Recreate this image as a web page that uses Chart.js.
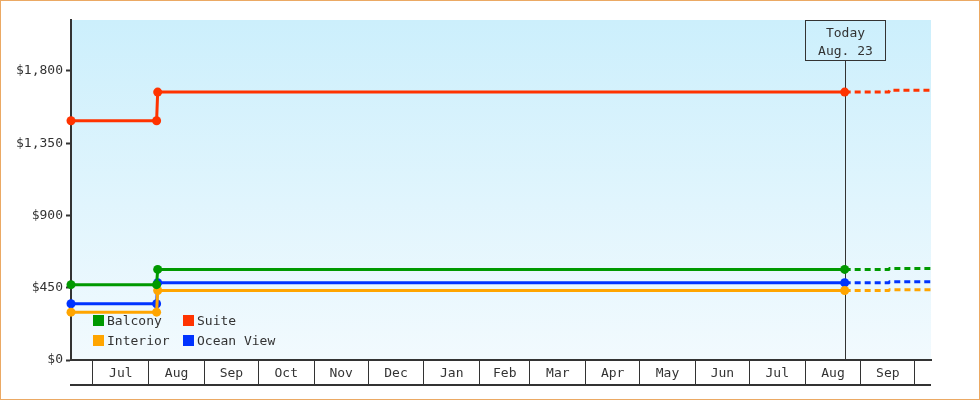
<!DOCTYPE html>
<html>
<head>
<meta charset="utf-8">
<script src="https://cdn.jsdelivr.net/npm/chart.js@4.4.1/dist/chart.umd.min.js"></script>
<style>
  html, body { margin: 0; padding: 0; background: #fff; }
  #wrap { position: relative; width: 980px; height: 400px; }
  #legend {
    position: absolute; left: 93px; top: 310px;
    display: grid; grid-template-columns: 90px auto;
    font: 13px "DejaVu Sans Mono", monospace; color: #333;
  }
  #legend .item { display: flex; align-items: center; height: 20px; }
  #legend .box { width: 11px; height: 11px; margin-right: 3px; }
</style>
</head>
<body>
<div id="wrap">
  <canvas id="chart" width="980" height="400"></canvas>
  <div id="legend"></div>
</div>
<script>
// days counted from Jul 1 of the first year
const pastDays = [-12.2, 35.4, 36.0, 418];
const futureDays = [418, 442.5, 443, 466];
const todayDay = 418;
const todayLabel = ['Today', 'Aug. 23'];

const balcony = [469, 469, 564, 564];
const interior = [298, 298, 433, 433];
const suite = [1490, 1490, 1668, 1668];
const oceanView = [350, 350, 481, 481];

const balconyFuture = [564, 564, 569, 569];
const interiorFuture = [433, 433, 437, 437];
const suiteFuture = [1668, 1668, 1680, 1680];
const oceanViewFuture = [481, 481, 487, 487];

const monthStarts = [0, 31, 62, 92, 123, 153, 184, 215, 243, 274, 304, 335, 365, 396, 427, 457];
const monthLabels = ['Jul', 'Aug', 'Sep', 'Oct', 'Nov', 'Dec', 'Jan', 'Feb', 'Mar', 'Apr', 'May', 'Jun', 'Jul', 'Aug', 'Sep'];
const yTicks = [0, 450, 900, 1350, 1800];

const FONT = '"DejaVu Sans Mono", monospace';
const INK = '#333';

const series = [
  { label: 'Balcony', color: '#009900', past: balcony, future: balconyFuture },
  { label: 'Interior', color: '#FFA500', past: interior, future: interiorFuture },
  { label: 'Suite', color: '#FF3300', past: suite, future: suiteFuture },
  { label: 'Ocean View', color: '#0033FF', past: oceanView, future: oceanViewFuture }
];

const datasets = [];
series.forEach(s => {
  datasets.push({
    label: s.label,
    data: pastDays.map((d, i) => ({ x: d, y: s.past[i] })),
    borderColor: s.color,
    backgroundColor: s.color,
    borderWidth: 3,
    pointRadius: 4.5,
    pointHoverRadius: 4.5,
    pointBorderWidth: 0,
    clip: false
  });
  datasets.push({
    label: s.label + ' forecast',
    data: futureDays.map((d, i) => ({ x: d, y: s.future[i] })),
    borderColor: s.color,
    borderWidth: 3,
    borderDash: [6, 4],
    pointRadius: 0
  });
});

// month label lookup for the mid-month ticks
const midLabels = new Map();
monthLabels.forEach((m, i) => midLabels.set((monthStarts[i] + monthStarts[i + 1]) / 2, m));

// gradient behind the plot + outer frame
const backdrop = {
  id: 'backdrop',
  beforeDraw(chart) {
    const { ctx, chartArea: a } = chart;
    const g = ctx.createLinearGradient(0, a.top, 0, a.bottom);
    g.addColorStop(0, '#CCEFFC');
    g.addColorStop(1, '#F2FAFE');
    ctx.save();
    ctx.fillStyle = g;
    ctx.fillRect(a.left, a.top, a.right - a.left, a.bottom - a.top);
    ctx.restore();
  },
  afterDraw(chart) {
    const { ctx, width, height, chartArea: a } = chart;
    const xs = chart.scales.x;
    ctx.save();
    // bottom line of the month band
    ctx.strokeStyle = INK;
    ctx.lineWidth = 2;
    ctx.beginPath();
    ctx.moveTo(a.left - 1, xs.top + 25);
    ctx.lineTo(a.right, xs.top + 25);
    ctx.stroke();
    ctx.strokeStyle = '#EBA964';
    ctx.lineWidth = 1;
    ctx.strokeRect(0.5, 0.5, width - 1, height - 1);
    ctx.restore();
  }
};

// "Today" marker
const todayMarker = {
  id: 'todayMarker',
  beforeDatasetsDraw(chart) {
    const { ctx, chartArea: a } = chart;
    const x = Math.round(chart.scales.x.getPixelForValue(todayDay)) + 0.5;
    const boxH = 40, boxW = 80;
    ctx.save();
    ctx.strokeStyle = INK;
    ctx.lineWidth = 1;
    ctx.beginPath();
    ctx.moveTo(x, a.top + boxH);
    ctx.lineTo(x, a.bottom);
    ctx.stroke();
    ctx.strokeRect(x - boxW / 2, a.top + 0.5, boxW, boxH);
    ctx.fillStyle = INK;
    ctx.font = '13px ' + FONT;
    ctx.textAlign = 'center';
    ctx.textBaseline = 'middle';
    ctx.fillText(todayLabel[0], x, a.top + 14);
    ctx.fillText(todayLabel[1], x, a.top + 32);
    ctx.restore();
  }
};

const chart = new Chart(document.getElementById('chart'), {
  type: 'line',
  data: { datasets },
  options: {
    responsive: false,
    animation: false,
    events: [],
    layout: { padding: { top: 20, right: 49, bottom: 15, left: 0 } },
    plugins: { legend: { display: false }, tooltip: { enabled: false } },
    scales: {
      x: {
        type: 'linear',
        min: -12.2,
        max: 466,
        afterBuildTicks: scale => {
          const t = monthStarts.map(v => ({ value: v }));
          midLabels.forEach((m, v) => t.push({ value: v }));
          scale.ticks = t.sort((p, q) => p.value - q.value);
        },
        afterFit: scale => { scale.height = 25; },
        border: { display: true, color: INK, width: 2 },
        grid: {
          drawOnChartArea: false,
          tickLength: 25,
          tickWidth: 1,
          tickColor: ctx => (ctx.tick && midLabels.has(ctx.tick.value)) ? 'rgba(0,0,0,0)' : INK
        },
        ticks: {
          autoSkip: false,
          maxRotation: 0,
          padding: -19,
          color: INK,
          font: { family: FONT, size: 13 },
          callback: v => midLabels.get(v) || ''
        }
      },
      y: {
        min: 0,
        max: 2117,
        afterBuildTicks: scale => { scale.ticks = yTicks.map(v => ({ value: v })); },
        afterFit: scale => { scale.width = 71; },
        border: { display: true, color: INK, width: 2 },
        grid: { drawOnChartArea: false, tickLength: 5, tickWidth: 2, tickColor: INK },
        ticks: {
          padding: 3,
          color: INK,
          font: { family: FONT, size: 13 },
          callback: v => '$' + v.toLocaleString('en-US')
        }
      }
    }
  },
  plugins: [backdrop, todayMarker]
});

// HTML legend, inside the plot, two columns
const legendOrder = ['Balcony', 'Suite', 'Interior', 'Ocean View'];
const legendEl = document.getElementById('legend');
legendOrder.forEach(name => {
  const s = series.find(q => q.label === name);
  const item = document.createElement('div');
  item.className = 'item';
  item.innerHTML = `<span class="box" style="background:${s.color}"></span>${s.label}`;
  legendEl.appendChild(item);
});
</script>
</body>
</html>
